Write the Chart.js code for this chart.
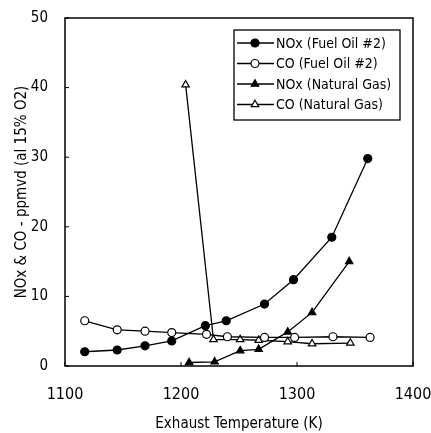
<!DOCTYPE html>
<html lang="en">
<head>
    <title>NOx and CO vs Exhaust Temperature</title>
    <meta charset="utf-8">
    <script src="https://cdn.jsdelivr.net/npm/chart.js@4.4.1/dist/chart.umd.min.js"></script>
    <style>
        html, body { margin: 0; padding: 0; background: #fff; }
        #wrap { width: 431px; height: 433px; }
    </style>
</head>
<body>

<div id="wrap">
    <canvas id="emis-chart" width="431" height="433"></canvas>
</div>

<script>
var FONT = "'Liberation Sans Narrow', 'DejaVu Sans Condensed', 'Liberation Sans', Arial, sans-serif";

// data
var noxOilT   = [1117, 1145, 1169, 1192, 1221, 1239, 1272, 1297, 1330, 1361];
var noxOil    = [2.05, 2.3, 2.9, 3.6, 5.8, 6.5, 8.9, 12.4, 18.5, 29.8];
var coOilT    = [1117, 1145, 1169, 1192, 1222, 1240, 1272, 1298, 1331, 1363];
var coOil     = [6.5, 5.2, 5.0, 4.8, 4.55, 4.2, 4.1, 4.1, 4.2, 4.1];
var noxGasT   = [1207, 1229, 1251, 1267, 1292, 1313, 1345];
var noxGas    = [0.5, 0.6, 2.2, 2.4, 4.9, 7.7, 15.0];
var coGasT    = [1204, 1228, 1251, 1267, 1292, 1313, 1346];
var coGas     = [40.4, 3.8, 3.8, 3.7, 3.5, 3.2, 3.3];

var seriesNames = ['NOx (Fuel Oil #2)', 'CO (Fuel Oil #2)', 'NOx (Natural Gas)', 'CO (Natural Gas)'];
var xTicks = [1100, 1200, 1300, 1400];
var yTicks = [0, 10, 20, 30, 40, 50];

function pts(xs, ys) {
    return xs.map(function (x, i) { return {x: x, y: ys[i]}; });
}

function makeSet(name, xs, ys, style, filled) {
    return {
        label: name,
        data: pts(xs, ys),
        showLine: true,
        borderColor: '#000',
        borderWidth: 1.3,
        pointStyle: style,
        pointRadius: style == 'triangle' ? 4.3 : 4,
        pointBorderWidth: 1.2,
        pointBorderColor: '#000',
        pointBackgroundColor: filled ? '#000' : '#fff',
        fill: false,
        tension: 0
    };
}

var datasets = [
    makeSet(seriesNames[0], noxOilT, noxOil, 'circle', true),
    makeSet(seriesNames[1], coOilT, coOil, 'circle', false),
    makeSet(seriesNames[2], noxGasT, noxGas, 'triangle', true),
    makeSet(seriesNames[3], coGasT, coGas, 'triangle', false)
];

// box around the plot, with small inward ticks
var frame = {
    id: 'frame',
    afterDatasetsDraw: function (chart) {
        var a = chart.chartArea, c = chart.ctx;
        var sx = chart.scales.x, sy = chart.scales.y;
        c.save();
        c.strokeStyle = '#000';
        c.lineWidth = 1.5;
        c.strokeRect(a.left, a.top, a.right - a.left, a.bottom - a.top);
        c.lineWidth = 1;
        c.beginPath();
        yTicks.forEach(function (v) {
            var p = sy.getPixelForValue(v);
            c.moveTo(a.left, p); c.lineTo(a.left + 4, p);
        });
        xTicks.forEach(function (v) {
            var p = sx.getPixelForValue(v);
            c.moveTo(p, a.bottom); c.lineTo(p, a.bottom - 4);
        });
        c.stroke();
        c.restore();
    }
};

// legend box inside the plot, top right
var boxLegend = {
    id: 'boxLegend',
    afterDraw: function (chart) {
        var c = chart.ctx;
        var bx = 234, by = 30, bw = 166, bh = 90;
        c.save();
        c.fillStyle = '#fff';
        c.fillRect(bx, by, bw, bh);
        c.strokeStyle = '#000';
        c.lineWidth = 1.3;
        c.strokeRect(bx, by, bw, bh);
        c.font = '14px ' + FONT;
        c.textBaseline = 'middle';
        chart.data.datasets.forEach(function (ds, i) {
            var y = by + 13 + i * 20.5;
            c.strokeStyle = '#000';
            c.lineWidth = 1.3;
            c.beginPath();
            c.moveTo(bx + 3, y);
            c.lineTo(bx + 40, y);
            c.stroke();
            c.fillStyle = ds.pointBackgroundColor;
            c.lineWidth = 1.2;
            Chart.helpers.drawPoint(c, {pointStyle: ds.pointStyle, radius: ds.pointRadius, borderWidth: 1.2}, bx + 21, y);
            c.fillStyle = '#000';
            c.fillText(ds.label, bx + 42, y + 1);
        });
        c.restore();
    }
};

new Chart(document.getElementById('emis-chart'), {
    type: 'scatter',
    data: {datasets: datasets},
    plugins: [frame, boxLegend],
    options: {
        responsive: false,
        animation: false,
        layout: {padding: {left: 0, right: 18, top: 18, bottom: 0}},
        plugins: {
            legend: {display: false},
            tooltip: {enabled: false}
        },
        scales: {
            x: {
                type: 'linear',
                min: 1100,
                max: 1400,
                afterBuildTicks: function (s) { s.ticks = xTicks.map(function (v) { return {value: v}; }); },
                afterFit: function (s) { s.height = 67; s.paddingLeft = 0; s.paddingRight = 0; },
                grid: {display: false, drawTicks: false, tickLength: 0},
                border: {display: false},
                ticks: {color: '#000', font: {family: FONT, size: 16}, padding: 19, maxRotation: 0,
                        callback: function (v) { return String(v); }},
                title: {display: true, text: 'Exhaust Temperature (K)', color: '#000',
                        font: {family: FONT, size: 15}, padding: {top: 2, bottom: 0}}
            },
            y: {
                min: 0,
                max: 50,
                afterBuildTicks: function (s) { s.ticks = yTicks.map(function (v) { return {value: v}; }); },
                afterFit: function (s) { s.width = 65; s.paddingTop = 0; s.paddingBottom = 0; },
                grid: {display: false, drawTicks: false, tickLength: 0},
                border: {display: false},
                ticks: {color: '#000', font: {family: FONT, size: 15}, padding: 17},
                title: {display: true, text: 'NOx & CO - ppmvd (al 15% O2)', color: '#000',
                        font: {family: FONT, size: 15}, padding: {top: 13, bottom: 0}}
            }
        }
    }
});
</script>
</body>
</html>
